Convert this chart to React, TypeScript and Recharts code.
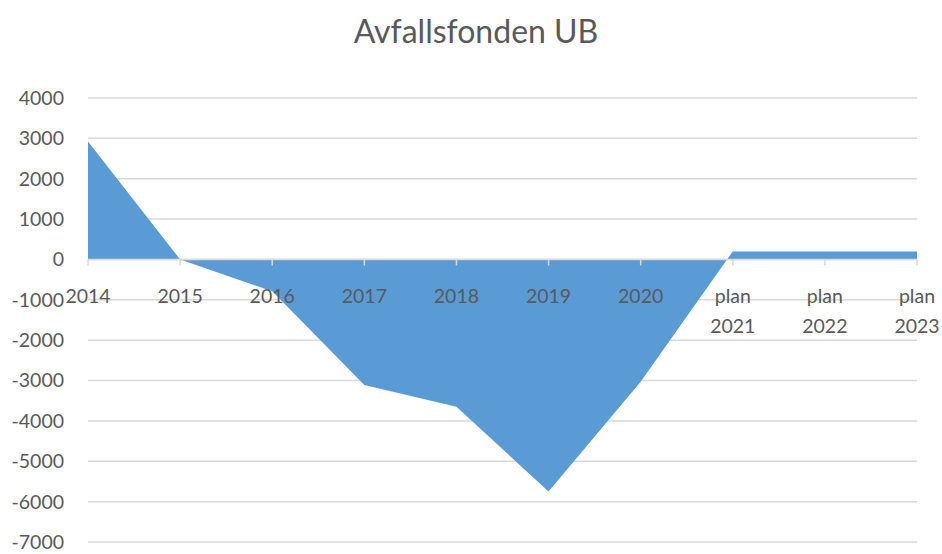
import {
  Area,
  AreaChart,
  CartesianGrid,
  ReferenceDot,
  ReferenceLine,
  XAxis,
  YAxis,
} from "recharts";

const years = [
  "2014",
  "2015",
  "2016",
  "2017",
  "2018",
  "2019",
  "2020",
  "plan 2021",
  "plan 2022",
  "plan 2023",
];
const ub = [2920, 0, -790, -3110, -3650, -5750, -3030, 200, 200, 200];
const yTicks = [4000, 3000, 2000, 1000, 0, -1000, -2000, -3000, -4000, -5000, -6000, -7000];

const data = years.map((year, i) => ({ year, ub: ub[i] }));

const FONT = "Lato, 'Open Sans', sans-serif";
const TEXT = "#595959";
const GRID = "#d9d9d9";

// Excel-style category label hanging under the zero line
function CategoryLabel({ cx, cy, label }: { cx: number; cy: number; label: string }) {
  const lines = label.split(" ");
  return (
    <g>
      <line x1={cx} x2={cx} y1={cy} y2={cy + 6} stroke={GRID} strokeWidth={1.5} />
      <text x={cx} y={cy + 44} textAnchor="middle" fill={TEXT} fontSize={19.5} fontFamily={FONT}>
        {lines.map((l, i) => (
          <tspan key={i} x={cx} dy={i ? 30 : 0}>
            {l}
          </tspan>
        ))}
      </text>
    </g>
  );
}

export default function App() {
  return (
    <div style={{ position: "absolute", left: 0, top: 0, width: 942, height: 554, background: "#fff" }}>
      <div
        style={{
          position: "absolute",
          top: 11,
          left: 0,
          width: 952,
          textAlign: "center",
          fontFamily: FONT,
          fontSize: 32,
          lineHeight: "40px",
          color: TEXT,
        }}
      >
        Avfallsfonden UB
      </div>
      <AreaChart
        width={942}
        height={554}
        data={data}
        margin={{ top: 98, right: 25, bottom: 12, left: 0 }}
      >
        <CartesianGrid vertical={false} stroke={GRID} strokeWidth={1.5} />
        <XAxis dataKey="year" hide />
        <YAxis
          domain={[-7000, 4000]}
          ticks={yTicks}
          interval={0}
          axisLine={false}
          tickLine={false}
          tickSize={0}
          tickMargin={24}
          width={88}
          tick={{ fill: TEXT, fontSize: 19.5, fontFamily: FONT }}
        />
        <Area
          type="linear"
          dataKey="ub"
          baseValue={0}
          stroke="none"
          fill="#5b9bd5"
          fillOpacity={1}
          isAnimationActive={false}
        />
        <ReferenceLine y={0} stroke={GRID} strokeWidth={1.5} />
        {years.map((year) => (
          <ReferenceDot
            key={year}
            x={year}
            y={0}
            r={1}
            shape={(p: any) => <CategoryLabel cx={p.cx} cy={p.cy} label={year} />}
          />
        ))}
      </AreaChart>
    </div>
  );
}
